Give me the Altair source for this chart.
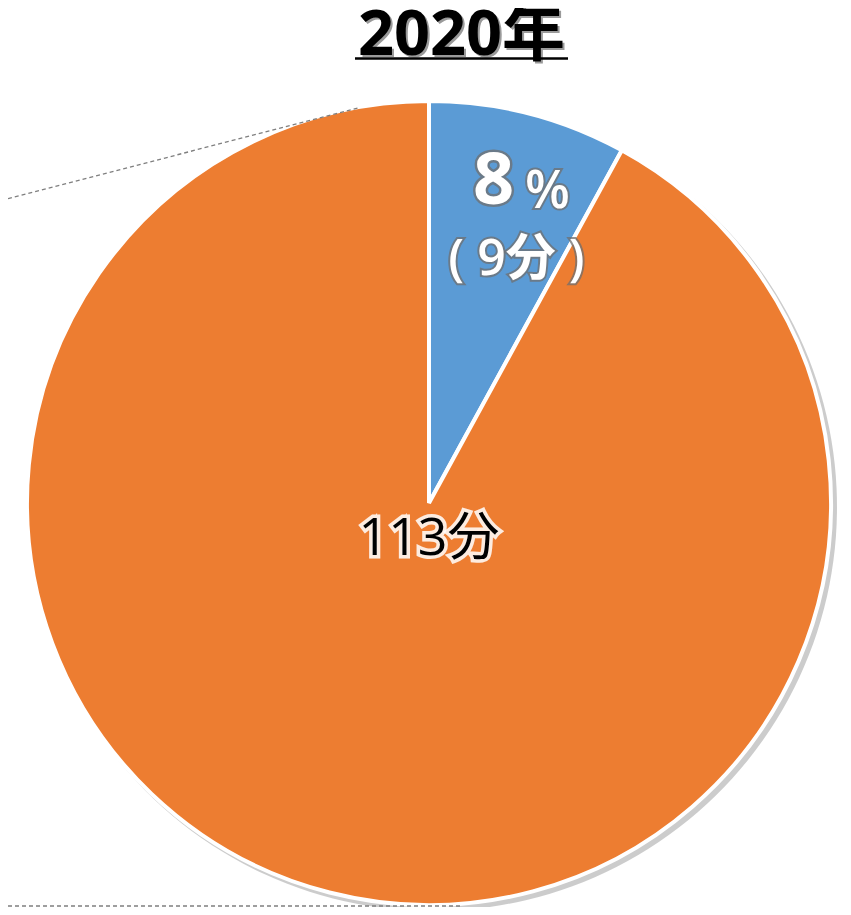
import altair as alt
import pandas as pd

# ---- data ----
categories = ["A", "B"]
minutes = [9, 104]
colors = ["#5B9BD5", "#ED7D31"]
title_text = "2020年"
unit = "分"

total = sum(minutes)
pct = round(minutes[0] / total * 100)

W, H = 835, 899
CX, CY, R = 421, 495, 402
FONT = "Open Sans, Noto Sans CJK JP"

df = pd.DataFrame({
    "cat": categories,
    "min": minutes,
    "ord": list(range(len(categories))),
    "big": [str(pct), ""],
    "sign": ["%", ""],
    "sub": [f"( {minutes[0]}{unit} )", ""],
})

theta = alt.Theta("min:Q", stack=True)
order = alt.Order("ord:Q")
cpos = dict(x=alt.value(CX), y=alt.value(CY))

xs = alt.Scale(domain=[0, W], range=[0, W])
ys = alt.Scale(domain=[0, H], range=[0, H])

# decorative dashed connector lines
lines = alt.Chart(pd.DataFrame({"k": ["top", "bottom"],
                                 "x1": [0, 0], "x2": [352, 452],
                                 "y1": [190.6, 898], "y2": [99.5, 898]})).mark_rule(
    color="#7f7f7f", strokeDash=[4, 3], strokeWidth=1.3
).encode(
    x=alt.X("x1:Q", scale=xs, axis=None),
    x2="x2:Q",
    y=alt.Y("y1:Q", scale=ys, axis=None),
    y2="y2:Q",
)

shadow = alt.Chart(df).mark_arc(outerRadius=R + 2, color="#8e8e8e", opacity=0.45).encode(
    theta=theta, order=order, x=alt.value(CX + 4), y=alt.value(CY + 4)
)

pie = alt.Chart(df).mark_arc(outerRadius=R, stroke="white", strokeWidth=4).encode(
    theta=theta, order=order,
    color=alt.Color("cat:N", scale=alt.Scale(domain=categories, range=colors), legend=None),
    **cpos,
)


def halo_text(field, size, dx, dy, fill, halo, halo_w, halo_op, weight="bold"):
    base = dict(radius=333, font=FONT, fontSize=size, fontWeight=weight,
                align="center", baseline="middle", dx=dx, dy=dy)
    under = alt.Chart(df).mark_text(stroke=halo, strokeWidth=halo_w, strokeOpacity=halo_op,
                                    fill=halo, fillOpacity=halo_op, **base).encode(
        theta=theta, order=order, text=f"{field}:N", **cpos)
    over = alt.Chart(df).mark_text(fill=fill, **base).encode(
        theta=theta, order=order, text=f"{field}:N", **cpos)
    return under + over


big = halo_text("big", 72, -18, 2, "white", "#6f6f6f", 5, 0.75)
sign = halo_text("sign", 52, 36, 12, "white", "#6f6f6f", 4, 0.75, weight=600)
sub = halo_text("sub", 50, 5, 80, "white", "#6f6f6f", 4, 0.75, weight=600)

center_df = pd.DataFrame({"t": [f"{total}{unit}"]})
center_under = alt.Chart(center_df).mark_text(
    font=FONT, fontSize=52, stroke="white", strokeWidth=7, strokeOpacity=0.85, fill="white",
    align="center", baseline="middle", dx=0, dy=36
).encode(text="t:N", **cpos)
center_over = alt.Chart(center_df).mark_text(
    font=FONT, fontSize=52, fill="black", align="center", baseline="middle", dx=0, dy=36
).encode(text="t:N", **cpos)

title_df = pd.DataFrame({"t": [title_text]})
title_shadow = alt.Chart(title_df).mark_text(
    font=FONT, fontSize=63, fontWeight="bold", fill="#9a9a9a", align="center", baseline="alphabetic"
).encode(text="t:N", x=alt.value(455.5), y=alt.value(49))
title = alt.Chart(title_df).mark_text(
    font=FONT, fontSize=63, fontWeight="bold", fill="black", align="center", baseline="alphabetic"
).encode(text="t:N", x=alt.value(453.5), y=alt.value(47))
underline = alt.Chart(title_df).mark_rule(color="black", strokeWidth=2.5).encode(
    x=alt.value(347), x2=alt.value(560), y=alt.value(50.5)
)

chart = alt.layer(
    shadow, pie, lines, big, sign, sub, center_under, center_over,
    title_shadow, title, underline
).resolve_scale(theta="shared").properties(
    width=W, height=H, padding=0, autosize=alt.AutoSizeParams(type="none")
).configure_view(stroke=None)

chart.save("out.html", embed_options={"renderer": "svg", "actions": False})
